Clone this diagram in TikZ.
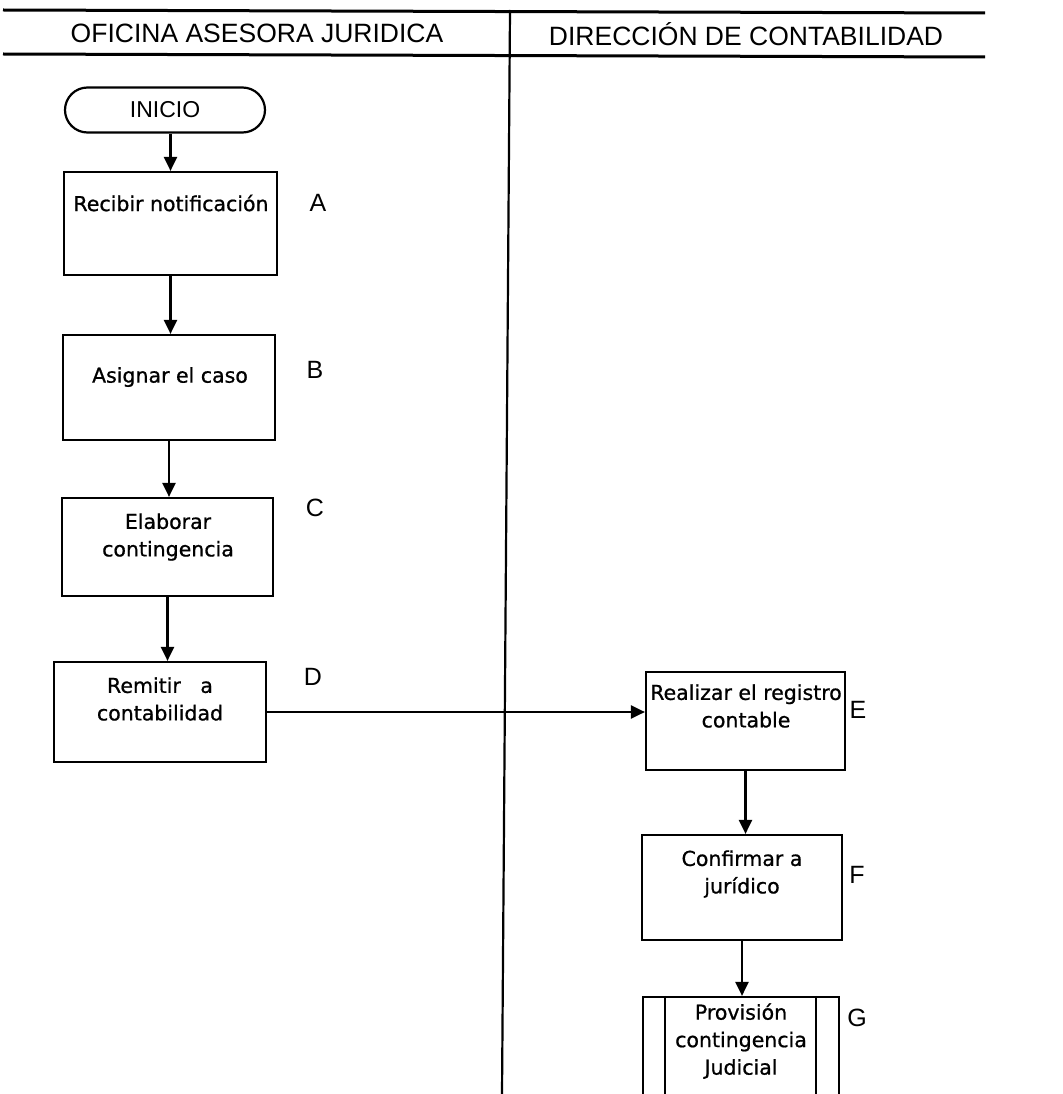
\documentclass[tikz,border=0pt]{standalone}
\usepackage{fontspec}
\setmainfont{Liberation Sans}
\newfontfamily\boxfont[FakeBold=0.8]{DejaVu Sans}
\usetikzlibrary{arrows.meta,shapes.misc}

\begin{document}
\begin{tikzpicture}[x=1pt,y=-1pt,
  rule/.style={line width=3pt},
  lane/.style={line width=2.2pt},
  stepbox/.style={draw, line width=2.2pt, fill=white, inner sep=0pt},
  steptext/.style={font=\boxfont\fontsize{20.5}{27.5}\selectfont, align=center, inner sep=0pt},
  tag/.style={font=\fontsize{25}{25}\selectfont, inner sep=0pt},
  head/.style={inner sep=0pt, font=\fontsize{26.5}{26.5}\selectfont},
  flow/.style={line width=2.2pt, -{Triangle[length=14pt,width=13pt]}},
  startbox/.style={draw, line width=2.2pt, rounded rectangle, fill=white,
    minimum width=200pt, minimum height=45pt, inner sep=0pt,
    font=\fontsize{23}{23}\selectfont}
]
\useasboundingbox (0,0) rectangle (1062,1094);
\fill[white] (0,0) rectangle (1062,1094);
\clip (0,0) rectangle (1062,1094);

% swimlane header and divider
\draw[rule] (3,10) -- (985,13);
\draw[rule] (3,54) -- (985,57);
\draw[lane] (510,10) -- (502,1094);
\node[head] (hleft) at (257,33) {OFICINA ASESORA JURIDICA};
\node[head] (hright) at (746,34) {DIRECCIÓN DE CONTABILIDAD};

% start
\node[startbox] (ini) at (165,110) {INICIO};

% process boxes
\node[stepbox, minimum width=213pt, minimum height=103pt] (a) at (170.5,223.5) {};
\node[stepbox, minimum width=212pt, minimum height=105pt] (b) at (169,387.5) {};
\node[stepbox, minimum width=211pt, minimum height=98pt]  (c) at (167.5,547) {};
\node[stepbox, minimum width=212pt, minimum height=100pt] (d) at (160,712) {};
\node[stepbox, minimum width=199pt, minimum height=98pt]  (e) at (745.5,721) {};
\node[stepbox, minimum width=200pt, minimum height=105pt] (f) at (742,887.5) {};
\node[stepbox, minimum width=196pt, minimum height=100pt] (g) at (741,1047) {};
\draw[line width=1.8pt] ([xshift=23pt]g.north west) -- ([xshift=23pt]g.south west);
\draw[line width=1.8pt] ([xshift=-24pt]g.north east) -- ([xshift=-24pt]g.south east);

% box texts
\node[steptext] (ta) at (171,203) {Recibir notificación};
\node[steptext] (tb) at (170,377) {Asignar el caso};
\node[steptext] (tc) at (168,537) {Elaborar\\contingencia};
\node[steptext] (td) at (160,699) {Remitir\ \ \ a\\contabilidad};
\node[steptext] (te) at (746,706) {Realizar el registro\\contable};
\node[steptext] (tf) at (742,874) {Confirmar a\\jurídico};
\node[steptext] (tg) at (741,1041) {Provisión\\contingencia\\Judicial};

% step letters
\node[tag] (la) at (318,203) {A};
\node[tag] (lb) at (315,370) {B};
\node[tag] (lc) at (315,508) {C};
\node[tag] (ld) at (313,677) {D};
\node[tag] (le) at (858,710) {E};
\node[tag] (lf) at (857,875) {F};
\node[tag] (lg) at (857,1018) {G};

% connectors
\draw[flow] (ini.south -| a.north) -- (a.north);
\draw[flow] (a.south) -- (a.south |- b.north);
\draw[flow] (b.south) -- (b.south |- c.north);
\draw[flow] (c.south) -- (c.south |- d.north);
\draw[flow] (d.east) -- (d.east -| e.west);
\draw[flow] (e.south) -- (e.south |- f.north);
\draw[flow] (f.south) -- (f.south |- g.north);
\end{tikzpicture}
\end{document}
